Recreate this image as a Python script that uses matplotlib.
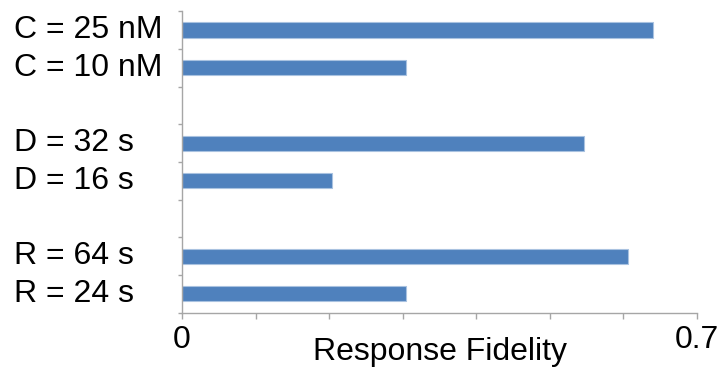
import matplotlib
matplotlib.use("Agg")
import matplotlib.pyplot as plt
import numpy as np

plt.rcParams['font.family'] = ['Liberation Sans', 'DejaVu Sans']

# conditions, top to bottom, two per group with a blank slot between groups
labels = ["C = 25 nM", "C = 10 nM", "D = 32 s", "D = 16 s", "R = 64 s", "R = 24 s"]
fidelity = [0.640, 0.305, 0.547, 0.204, 0.606, 0.305]
group_size = 2

bar_color = '#4F81BD'
axis_color = '#A6A6A6'

# slot index of each bar, leaving one empty slot after every group
slots = [i + i // group_size for i in range(len(labels))]
n_slots = slots[-1] + 1

fig = plt.figure(figsize=(7.24, 3.71), dpi=100)
ax = fig.add_axes([0.2514, 0.157, 0.7113, 0.813])

ax.barh(slots, fidelity, height=0.4, color=bar_color,
        edgecolor='#A9C2E0', linewidth=0.8)

ax.set_xlim(0, 0.7)
ax.set_ylim(n_slots - 0.5, -0.5)

# spines
for s in ['top', 'right']:
    ax.spines[s].set_visible(False)
for s in ['left', 'bottom']:
    ax.spines[s].set_color(axis_color)
    ax.spines[s].set_linewidth(1.0)

# x axis: ticks every 0.1, only the ends labelled
xt = np.round(np.arange(0, 0.71, 0.1), 1)
ax.set_xticks(xt)
ax.set_xticklabels(['0' if v == 0 else ('0.7' if v == 0.7 else '') for v in xt])
ax.tick_params(axis='x', direction='out', length=4, width=1, color=axis_color,
               labelsize=23, pad=5)

# y axis: ticks on slot boundaries, labels on bar centres
ax.set_yticks(np.arange(-0.5, n_slots, 1.0))
ax.set_yticklabels([])
ax.tick_params(axis='y', which='major', direction='out', length=3, width=1,
               color=axis_color)
ax.set_yticks(slots, minor=True)
ax.set_yticklabels(labels, minor=True)
ax.tick_params(axis='y', which='minor', length=0, labelsize=23, pad=121)
for t in ax.get_yticklabels(minor=True):
    t.set_horizontalalignment('left')
    t.set_verticalalignment('center')

ax.set_xlabel("Response Fidelity", fontsize=23)
ax.xaxis.set_label_coords(0.5, -0.157)
ax.xaxis.label.set_verticalalignment('baseline')

fig.savefig("out.png", dpi=100)
